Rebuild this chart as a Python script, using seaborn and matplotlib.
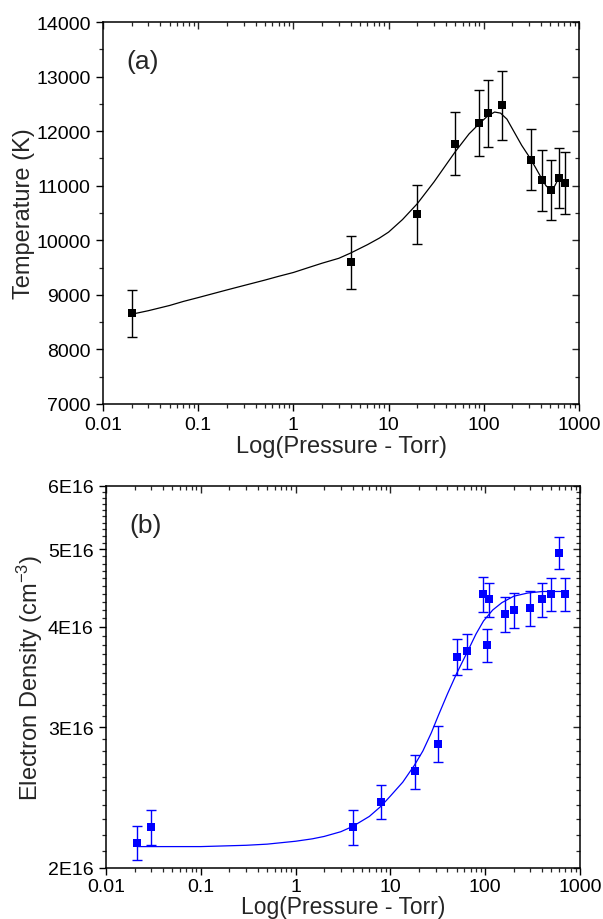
import numpy as np
import pandas as pd
import matplotlib
matplotlib.use("Agg")
import matplotlib.pyplot as plt
import matplotlib.ticker as mticker
import seaborn as sns

# ---------------- data ----------------
# Panel (a): temperature
pressure_T = [0.02, 4, 20, 50, 88, 110, 155, 310, 410, 505, 610, 710]
temperature = [8660, 9595, 10480, 11770, 12150, 12330, 12470, 11480, 11100, 10930, 11150, 11050]
temperature_err = [430, 480, 540, 580, 600, 615, 625, 560, 555, 550, 550, 565]

fit_T_pressure = [0.02, 0.03, 0.05, 0.07, 0.1, 0.2, 0.3, 0.5, 0.7, 1, 1.5, 2, 3, 4, 6, 8,
                  10, 14, 20, 30, 40, 50, 70, 90, 110, 130, 150, 175, 200, 250, 300, 350,
                  400, 450, 500, 550, 600, 650, 700]
fit_T = [8645, 8710, 8805, 8880, 8950, 9090, 9170, 9270, 9340, 9410, 9510, 9580, 9670,
         9767, 9920, 10040, 10150, 10380, 10670, 11070, 11380, 11620, 11950, 12140, 12280,
         12350, 12330, 12220, 12040, 11740, 11530, 11330, 11150, 11000, 10925, 10980,
         11110, 11120, 11060]

# Panel (b): electron density (cm^-3)
pressure_N = [0.021, 0.03, 4, 8, 18, 32, 50, 65, 95, 105, 110, 160, 200, 300, 400, 500, 600, 700]
density = [2.15e16, 2.25e16, 2.25e16, 2.42e16, 2.64e16, 2.86e16, 3.67e16, 3.73e16, 4.40e16,
           3.80e16, 4.33e16, 4.15e16, 4.20e16, 4.22e16, 4.33e16, 4.40e16, 4.95e16, 4.40e16]
density_err = [0.105e16, 0.115e16, 0.115e16, 0.12e16, 0.13e16, 0.145e16, 0.19e16, 0.19e16,
               0.22e16, 0.18e16, 0.21e16, 0.21e16, 0.21e16, 0.21e16, 0.21e16, 0.21e16,
               0.23e16, 0.21e16]

fit_N_pressure = [0.022, 0.1, 0.3, 0.5, 1, 1.5, 2, 3, 4, 6, 8, 10, 13.5, 18, 22, 27, 32,
                  40, 50, 66, 80, 96, 120, 150, 200, 280, 400, 700]
fit_N = [2.127e16, 2.127e16, 2.135e16, 2.142e16, 2.16e16, 2.175e16, 2.19e16, 2.22e16,
         2.254e16, 2.32e16, 2.39e16, 2.46e16, 2.56e16, 2.69e16, 2.80e16, 2.95e16, 3.10e16,
         3.30e16, 3.50e16, 3.74e16, 3.92e16, 4.07e16, 4.20e16, 4.29e16, 4.37e16, 4.41e16,
         4.43e16, 4.43e16]

x_ticks = [0.01, 0.1, 1, 10, 100, 1000]
x_ticklabels = ["0.01", "0.1", "1", "10", "100", "1000"]
T_ticks = [7000, 8000, 9000, 10000, 11000, 12000, 13000, 14000]
N_ticks = [2e16, 3e16, 4e16, 5e16, 6e16]
N_ticklabels = ["2E16", "3E16", "4E16", "5E16", "6E16"]

# ---------------- style ----------------
sns.set_style("ticks")
plt.rcParams["font.family"] = ["Liberation Sans", "DejaVu Sans"]
plt.rcParams["mathtext.fontset"] = "custom"
plt.rcParams["mathtext.rm"] = "Liberation Sans"
plt.rcParams["mathtext.it"] = "Liberation Sans"
plt.rcParams["axes.linewidth"] = 1.1

fig = plt.figure(figsize=(6.03, 9.2), dpi=100)
ax1 = fig.add_axes([103 / 603, 1 - 405 / 920, 476 / 603, 382 / 920])
ax2 = fig.add_axes([106 / 603, 1 - 869 / 920, 474 / 603, 382 / 920])

dfT = pd.DataFrame({"p": pressure_T, "T": temperature, "e": temperature_err})
dfTf = pd.DataFrame({"p": fit_T_pressure, "T": fit_T})
dfN = pd.DataFrame({"p": pressure_N, "N": density, "e": density_err})
dfNf = pd.DataFrame({"p": fit_N_pressure, "N": fit_N})

# panel (a)
sns.lineplot(data=dfTf, x="p", y="T", ax=ax1, color="black", lw=0.9, sort=False, zorder=2)
ax1.errorbar(dfT["p"], dfT["T"], yerr=dfT["e"], fmt="none", ecolor="black",
             elinewidth=1.0, capsize=3.5, capthick=1.0, zorder=3)
sns.scatterplot(data=dfT, x="p", y="T", ax=ax1, marker="s", s=26, color="black",
                edgecolor="black", linewidth=0, zorder=4)

# panel (b)
sns.lineplot(data=dfNf, x="p", y="N", ax=ax2, color="#0000FF", lw=0.9, sort=False, zorder=2)
ax2.errorbar(dfN["p"], dfN["N"], yerr=dfN["e"], fmt="none", ecolor="#0000FF",
             elinewidth=1.0, capsize=3.5, capthick=1.0, zorder=3)
sns.scatterplot(data=dfN, x="p", y="N", ax=ax2, marker="s", s=38, color="#0000FF",
                edgecolor="#0000FF", linewidth=0, zorder=4)

def style_axes(ax, xlabelpad, tickpad, xlabelsize):
    ax.set_xscale("log")
    ax.set_xlim(0.01, 1000)
    ax.xaxis.set_major_locator(mticker.FixedLocator(x_ticks))
    ax.xaxis.set_major_formatter(mticker.FixedFormatter(x_ticklabels))
    ax.xaxis.set_minor_locator(mticker.LogLocator(base=10, subs=np.arange(2, 10), numticks=20))
    ax.xaxis.set_minor_formatter(mticker.NullFormatter())
    for s in ["top", "right", "left", "bottom"]:
        ax.spines[s].set_visible(True)
        ax.spines[s].set_linewidth(1.1)
        ax.spines[s].set_color("black")
    ax.tick_params(which="major", direction="out", length=5, width=1.0, labelsize=14,
                   pad=4, colors="black")
    ax.tick_params(axis="x", which="major", pad=tickpad)
    ax.tick_params(which="minor", direction="out", length=3, width=0.9)
    ax.set_xlabel("Log(Pressure - Torr)", fontsize=xlabelsize, labelpad=xlabelpad)

style_axes(ax1, 1, 4, 17)
ax1.set_ylim(7000, 14000)
ax1.yaxis.set_major_locator(mticker.FixedLocator(T_ticks))
ax1.yaxis.set_minor_locator(mticker.MultipleLocator(500))
ax1.set_ylabel("Temperature (K)", fontsize=17, labelpad=1)
ax1.text(0.05, 0.93, "(a)", transform=ax1.transAxes, fontsize=19, va="top", ha="left")

style_axes(ax2, 0, 2, 16.5)
ax2.set_yscale("log")
ax2.set_ylim(2e16, 6e16)
ax2.yaxis.set_major_locator(mticker.FixedLocator(N_ticks))
ax2.yaxis.set_major_formatter(mticker.FixedFormatter(N_ticklabels))
ax2.yaxis.set_minor_locator(mticker.FixedLocator(np.arange(2.1e16, 6.0e16, 0.1e16)))
ax2.yaxis.set_minor_formatter(mticker.NullFormatter())
ax2.set_ylabel("Electron Density (cm$^{-3}$)", fontsize=17, labelpad=2)
ax2.text(0.05, 0.93, "(b)", transform=ax2.transAxes, fontsize=19, va="top", ha="left")

# inward ticks on top / right
for ax in (ax1, ax2):
    top = ax.secondary_xaxis("top", functions=(lambda v: v, lambda v: v))
    top.set_xscale("log")
    top.xaxis.set_major_locator(mticker.FixedLocator(x_ticks))
    top.xaxis.set_minor_locator(mticker.LogLocator(base=10, subs=np.arange(2, 10), numticks=20))
    top.xaxis.set_major_formatter(mticker.NullFormatter())
    top.xaxis.set_minor_formatter(mticker.NullFormatter())
    top.tick_params(which="major", direction="in", length=5, width=1.0)
    top.tick_params(which="minor", direction="in", length=3, width=0.9)
    top.spines["top"].set_visible(False)

r1 = ax1.secondary_yaxis("right", functions=(lambda v: v, lambda v: v))
r1.yaxis.set_major_locator(mticker.FixedLocator(T_ticks))
r1.yaxis.set_minor_locator(mticker.MultipleLocator(500))
r1.yaxis.set_major_formatter(mticker.NullFormatter())
r1.tick_params(which="major", direction="in", length=5, width=1.0)
r1.tick_params(which="minor", direction="in", length=3, width=0.9)
r1.spines["right"].set_visible(False)

r2 = ax2.secondary_yaxis("right", functions=(lambda v: v, lambda v: v))
r2.set_yscale("log")
r2.yaxis.set_major_locator(mticker.FixedLocator(N_ticks))
r2.yaxis.set_minor_locator(mticker.FixedLocator(np.arange(2.1e16, 6.0e16, 0.1e16)))
r2.yaxis.set_major_formatter(mticker.NullFormatter())
r2.yaxis.set_minor_formatter(mticker.NullFormatter())
r2.tick_params(which="major", direction="in", length=5, width=1.0)
r2.tick_params(which="minor", direction="in", length=3, width=0.9)
r2.spines["right"].set_visible(False)

fig.savefig("out.png", dpi=100, facecolor="white")
